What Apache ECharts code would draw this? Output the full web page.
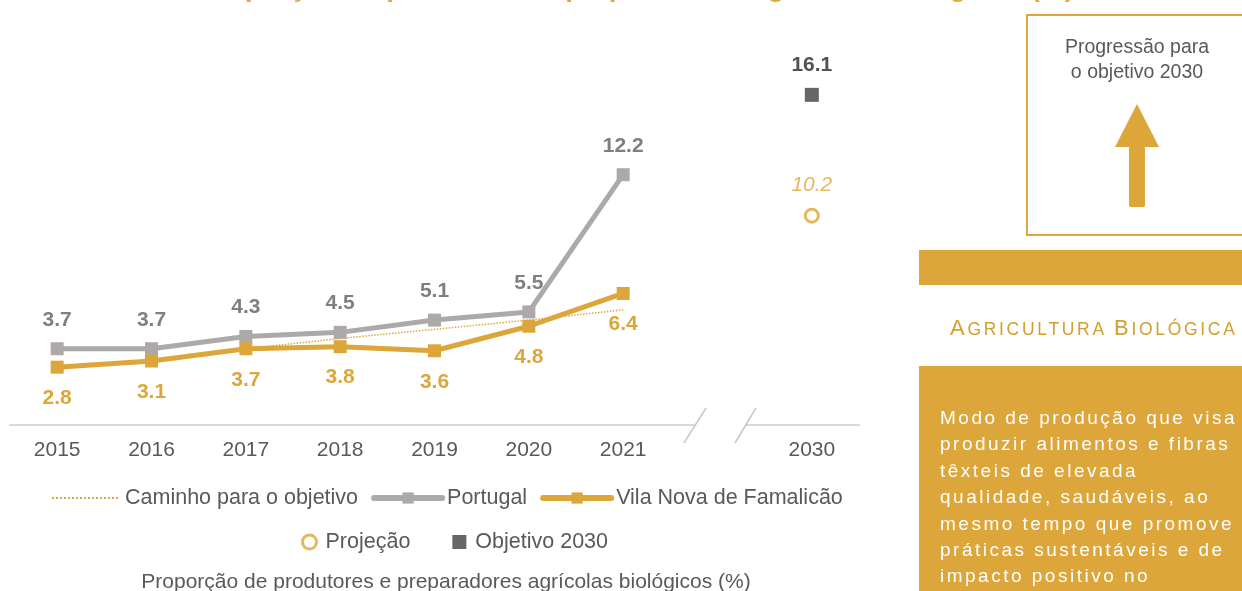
<!DOCTYPE html>
<html>
<head>
<meta charset="utf-8">
<script src="https://cdn.jsdelivr.net/npm/echarts@6/dist/echarts.min.js"></script>
<style>
  html, body { margin: 0; padding: 0; width: 1242px; height: 591px; overflow: hidden; background: #fff; }
  #chart { position: absolute; left: 0; top: 0; width: 1242px; height: 591px; }
  .heading { position: absolute; left: 950px; top: 314px; white-space: nowrap; color: #D2A02E;
    font-family: "Liberation Sans", Arial, sans-serif; letter-spacing: 2.7px; line-height: 28px; }
  .heading .big { font-size: 22px; }
  .heading .small { font-size: 17.5px; }
  .para { position: absolute; left: 940px; top: 405px; width: 310px; color: #fff; white-space: nowrap;
    font-family: "Liberation Sans", Arial, sans-serif; font-size: 19px; letter-spacing: 2.5px; line-height: 26.4px; }
</style>
</head>
<body>
<div id="chart"></div>
<div class="heading"><span class="big">A</span><span class="small">GRICULTURA</span> <span class="big">B</span><span class="small">IOLÓGICA</span></div>
<div class="para">Modo de produção que visa<br>produzir alimentos e fibras<br>têxteis de elevada<br>qualidade, saudáveis, ao<br>mesmo tempo que promove<br>práticas sustentáveis e de<br>impacto positivo no<br>ambiente.</div>
<script>
const categories = ['2015', '2016', '2017', '2018', '2019', '2020', '2021', '', '2030'];
const portugal   = [3.7, 3.7, 4.3, 4.5, 5.1, 5.5, 12.2, null, null];
const famalicao  = [2.8, 3.1, 3.7, 3.8, 3.6, 4.8, 6.4, null, null];
const caminho    = [null, null, 3.7, 4.2, 4.65, 5.1, 5.6, null, null];
const projecao   = [null, null, null, null, null, null, null, null, 10.2];
const objetivo   = [null, null, null, null, null, null, null, null, 16.1];

const GOLD = '#DDA63A';
const GREY = '#ADA9A8';
const FONT = '"Liberation Sans", Arial, sans-serif';

const chart = echarts.init(document.getElementById('chart'), null, { renderer: 'canvas' });
chart.setOption({
  animation: false,
  textStyle: { fontFamily: FONT },
  grid: { left: 10, right: 383, top: 15, bottom: 166.5, containLabel: false },
  xAxis: {
    type: 'category',
    data: categories,
    boundaryGap: true,
    axisLine: { show: true, lineStyle: { color: '#D9D9D9', width: 2 } },
    axisTick: { show: false },
    axisLabel: { color: '#595959', fontSize: 21, margin: 15, fontFamily: FONT, interval: 0 }
  },
  yAxis: { type: 'value', min: 0, max: 20, show: false, splitLine: { show: false } },
  legend: [
    {
      left: 46, top: 482, itemWidth: 68, itemHeight: 14, itemGap: 13,
      textStyle: { color: '#595959', fontSize: 21.5, fontFamily: FONT },
      data: [
        { name: 'Caminho para o objetivo', itemStyle: { opacity: 0 }, lineStyle: { width: 2, type: 'dotted', color: GOLD } },
        { name: 'Portugal', lineStyle: { width: 6, cap: 'round', color: GREY } },
        { name: 'Vila Nova de Famalicão', lineStyle: { width: 6, cap: 'round', color: GOLD } }
      ]
    },
    {
      left: 296, top: 526, itemWidth: 22, itemHeight: 14, itemGap: 42, symbolKeepAspect: true,
      textStyle: { color: '#595959', fontSize: 21.5, fontFamily: FONT },
      data: [
        { name: 'Projeção', icon: 'circle', itemStyle: { color: '#fff', borderColor: GOLD, borderWidth: 3 } },
        { name: 'Objetivo 2030', icon: 'path://M0,0L10,0L10,10L0,10Z', itemStyle: { color: '#404040' } }
      ]
    }
  ],
  series: [
    {
      name: 'Caminho para o objetivo', type: 'line', data: caminho, z: 1,
      symbol: 'none', lineStyle: { color: GOLD, width: 1.5, type: 'dotted' }, itemStyle: { color: GOLD }
    },
    {
      name: 'Portugal', type: 'line', data: portugal, z: 2,
      symbol: 'rect', symbolSize: 13,
      lineStyle: { color: GREY, width: 5 }, itemStyle: { color: GREY },
      label: { show: true, position: 'top', distance: 12, color: '#7F7F7F', fontWeight: 'bold', fontSize: 21, fontFamily: FONT }
    },
    {
      name: 'Vila Nova de Famalicão', type: 'line', data: famalicao, z: 3,
      symbol: 'rect', symbolSize: 13,
      lineStyle: { color: GOLD, width: 5 }, itemStyle: { color: GOLD },
      label: { show: true, position: 'bottom', distance: 14, color: GOLD, fontWeight: 'bold', fontSize: 21, fontFamily: FONT }
    },
    {
      name: 'Projeção', type: 'scatter', data: projecao,
      symbol: 'circle', symbolSize: 13,
      itemStyle: { color: '#fff', borderColor: GOLD, borderWidth: 3 },
      label: { show: true, position: 'top', distance: 12, color: GOLD, fontStyle: 'italic', fontSize: 21, fontFamily: FONT }
    },
    {
      name: 'Objetivo 2030', type: 'scatter', data: objetivo,
      symbol: 'rect', symbolSize: 14,
      itemStyle: { color: '#404040' },
      label: { show: true, position: 'top', distance: 12, color: '#262626', fontWeight: 'bold', fontSize: 21, fontFamily: FONT }
    }
  ],
  graphic: [
    // cut-off title
    { type: 'text', z: 100, style: { text: 'Proporção de produtores e preparadores agrícolas biológicos (%)', x: 636, y: -26,
      align: 'center', verticalAlign: 'top', fill: '#E0A93B', font: 'bold 28px ' + FONT } },
    // axis break
    { type: 'rect', z: 100, shape: { x: 696, y: 418, width: 49, height: 12 }, style: { fill: '#fff' } },
    { type: 'line', z: 101, shape: { x1: 684, y1: 443, x2: 706, y2: 408 }, style: { stroke: '#C8C8C8', lineWidth: 1.5 } },
    { type: 'line', z: 101, shape: { x1: 735, y1: 443, x2: 756, y2: 408 }, style: { stroke: '#C8C8C8', lineWidth: 1.5 } },
    // bottom caption
    { type: 'text', z: 100, style: { text: 'Proporção de produtores e preparadores agrícolas biológicos (%)', x: 446, y: 582,
      align: 'center', verticalAlign: 'middle', fill: '#595959', font: '21px ' + FONT } },
    // right panel: progression box
    { type: 'rect', z: 100, shape: { x: 1027, y: 15, width: 240, height: 220 }, style: { fill: 'none', stroke: GOLD, lineWidth: 2 } },
    { type: 'text', z: 100, style: { text: 'Progressão para', x: 1137, y: 48, align: 'center', verticalAlign: 'middle', fill: '#595959', font: '19.5px ' + FONT } },
    { type: 'text', z: 100, style: { text: 'o objetivo 2030', x: 1137, y: 73, align: 'center', verticalAlign: 'middle', fill: '#595959', font: '19.5px ' + FONT } },
    { type: 'polygon', z: 100, shape: { points: [[1137, 104], [1159, 147], [1115, 147]] }, style: { fill: GOLD } },
    { type: 'rect', z: 100, shape: { x: 1129, y: 146, width: 16, height: 61, r: 2 }, style: { fill: GOLD } },
    // gold band
    { type: 'rect', z: 100, shape: { x: 919, y: 250, width: 330, height: 35 }, style: { fill: GOLD } },
    // gold description box
    { type: 'rect', z: 100, shape: { x: 919, y: 366, width: 330, height: 240 }, style: { fill: GOLD } }
  ]
});
</script>
</body>
</html>
